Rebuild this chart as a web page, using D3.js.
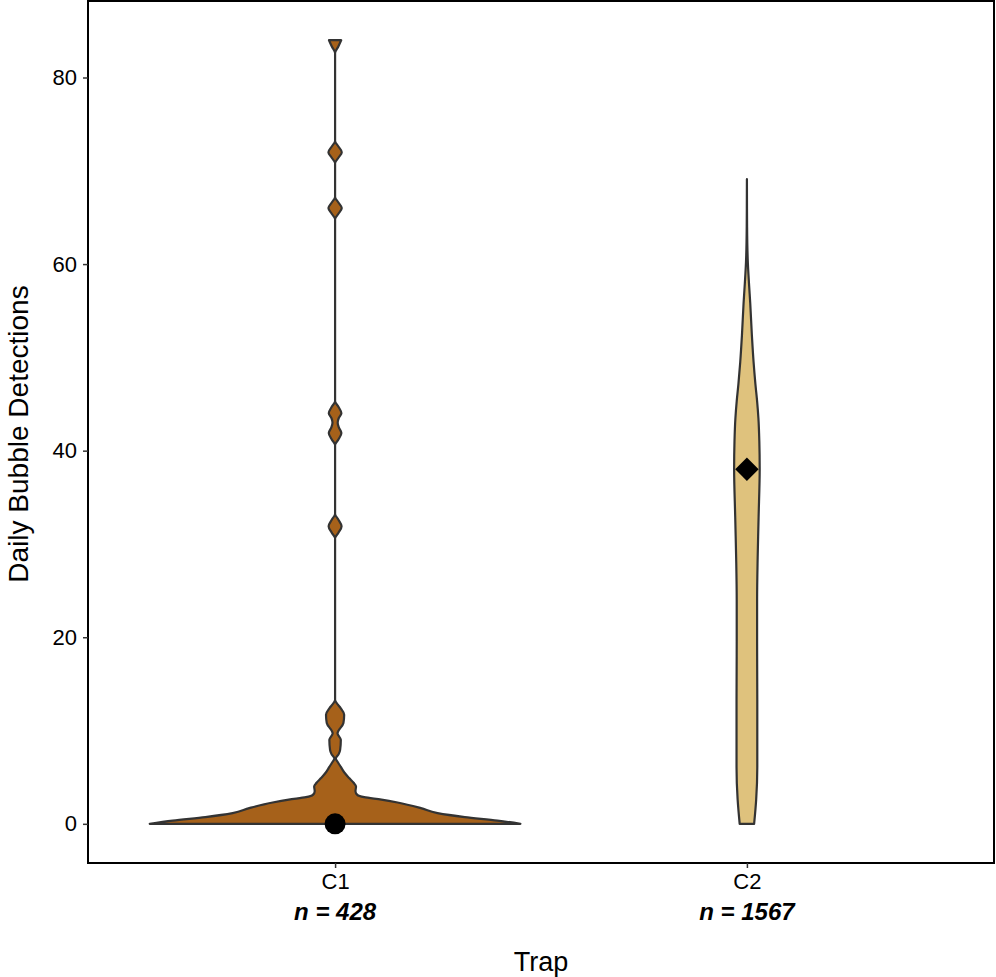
<!DOCTYPE html>
<html>
<head>
<meta charset="utf-8">
<script src="https://cdn.jsdelivr.net/npm/d3@7"></script>
<style>
  body { margin: 0; background: #fff; }
  text { font-family: "Liberation Sans", Arial, Helvetica, sans-serif; fill: #000; }
</style>
</head>
<body>
<svg id="chart" width="996" height="977"></svg>
<script>
const traps = ["C1", "C2"];
const counts = [428, 1567];
const fills = ["#A6611A", "#DFC27D"];
const summaryValues = [0, 38];
const yTicks = [0, 20, 40, 60, 80];

// violin outlines: detection value -> relative half width (1 = widest violin)
const c1Values = [0, 0.35, 0.72, 1.14, 1.68, 2.29, 2.6, 2.86, 3.1, 3.5, 4.0, 4.4, 4.9, 5.5, 6.1, 6.6, 7.0, 7.5, 7.9, 9.0, 9.7,
  10.8, 11.7, 12.4, 12.8, 13.3,
  30.6, 31.2, 31.9, 32.6, 33.2,
  40.6, 41.2, 41.9, 42.5, 43.0, 43.5, 44.0, 44.7, 45.3,
  64.8, 65.4, 66.0, 66.6, 67.2,
  70.8, 71.4, 72.0, 72.6, 73.2,
  82.6, 83.3, 84.0];
const c1Widths = [1.0, 0.876, 0.70, 0.553, 0.463, 0.337, 0.25, 0.157, 0.12, 0.11, 0.113, 0.1, 0.076, 0.05, 0.031, 0.015, 0.004, 0.02, 0.027, 0.031, 0.013,
  0.045, 0.049, 0.03, 0.014, 0,
  0, 0.018, 0.035, 0.018, 0,
  0, 0.018, 0.034, 0.02, 0.014, 0.02, 0.034, 0.018, 0,
  0, 0.018, 0.036, 0.018, 0,
  0, 0.018, 0.036, 0.018, 0,
  0, 0.017, 0.033];
const c2Values = [0, 2.6, 6.1, 13.3, 19.7, 24.0, 28.5, 32.8, 38.1, 41.0, 43.5, 45.3, 47.1, 49.5, 52.3, 55.8, 58.0, 60.2, 64.0, 69.1];
const c2Widths = [0.039, 0.05, 0.056, 0.056, 0.055, 0.055, 0.058, 0.063, 0.069, 0.067, 0.062, 0.055, 0.046, 0.036, 0.027, 0.018, 0.011, 0.005, 0.001, 0];

const margin = {top: 1, right: 2, bottom: 114, left: 88};
const width = 996, height = 977;

let svg = d3.select("#chart");

let xScale = d3.scalePoint()
  .domain(traps)
  .range([margin.left, width - margin.right])
  .padding(0.6);

let yMax = d3.max(c1Values.concat(c2Values));
let yScale = d3.scaleLinear()
  .domain([-0.05 * yMax, yMax * 1.05])
  .range([height - margin.bottom, margin.top]);

let halfMax = xScale.step() * 0.45;

let violins = traps.map(function(t, i) {
  let vals = i === 0 ? c1Values : c2Values;
  let wids = i === 0 ? c1Widths : c2Widths;
  return {
    trap: t,
    fill: fills[i],
    points: vals.map(function(v, j) { return {v: v, w: wids[j]}; })
  };
});

violins.forEach(function(d) {
  let cx = xScale(d.trap);
  let area = d3.area()
    .curve(d3.curveMonotoneY)
    .y(function(p) { return yScale(p.v); })
    .x0(function(p) { return cx - p.w * halfMax; })
    .x1(function(p) { return cx + p.w * halfMax; });

  svg.append("path")
    .datum(d.points)
    .attr("d", area)
    .attr("fill", d.fill)
    .attr("stroke", "#333333")
    .attr("stroke-width", 2.2)
    .attr("stroke-linejoin", "round");
});

// summary markers
svg.append("circle")
  .attr("cx", xScale(traps[0]))
  .attr("cy", yScale(summaryValues[0]))
  .attr("r", 10.5)
  .attr("fill", "#000");

svg.append("path")
  .attr("d", d3.symbol().type(d3.symbolSquare).size(275)())
  .attr("transform", "translate(" + xScale(traps[1]) + "," + yScale(summaryValues[1]) + ") rotate(45)")
  .attr("fill", "#000");

// panel border
svg.append("rect")
  .attr("x", margin.left)
  .attr("y", margin.top)
  .attr("width", width - margin.left - margin.right)
  .attr("height", height - margin.top - margin.bottom)
  .attr("fill", "none")
  .attr("stroke", "#000")
  .attr("stroke-width", 2);

// y axis
let yAxis = d3.axisLeft(yScale).tickValues(yTicks).tickSize(5).tickPadding(6);
let yG = svg.append("g")
  .attr("transform", "translate(" + margin.left + ",0)")
  .call(yAxis);
yG.select(".domain").remove();
yG.selectAll(".tick line").attr("stroke", "#333").attr("stroke-width", 1.5);
yG.selectAll(".tick text")
  .attr("font-size", 22)
  .attr("fill", "#000")
  .style("font-family", "'Liberation Sans', Arial, sans-serif");

// x axis
let xAxis = d3.axisBottom(xScale).tickSize(5).tickPadding(5);
let xG = svg.append("g")
  .attr("transform", "translate(0," + (height - margin.bottom) + ")")
  .call(xAxis);
xG.select(".domain").remove();
xG.selectAll(".tick line").attr("stroke", "#333").attr("stroke-width", 1.5);
xG.selectAll(".tick text")
  .attr("font-size", 22)
  .attr("fill", "#000")
  .style("font-family", "'Liberation Sans', Arial, sans-serif");

// sample sizes under the categories
svg.selectAll(".ncount")
  .data(traps)
  .enter()
  .append("text")
  .attr("class", "ncount")
  .attr("x", function(d) { return xScale(d); })
  .attr("y", 920)
  .attr("text-anchor", "middle")
  .attr("font-size", 24)
  .attr("font-weight", "bold")
  .attr("font-style", "italic")
  .text(function(d, i) { return "n = " + counts[i]; });

// axis titles
svg.append("text")
  .attr("x", (margin.left + width - margin.right) / 2)
  .attr("y", 971)
  .attr("text-anchor", "middle")
  .attr("font-size", 27)
  .text("Trap");

svg.append("text")
  .attr("transform", "translate(28," + ((margin.top + height - margin.bottom) / 2 + 2) + ") rotate(-90)")
  .attr("text-anchor", "middle")
  .attr("font-size", 28)
  .text("Daily Bubble Detections");
</script>
</body>
</html>
